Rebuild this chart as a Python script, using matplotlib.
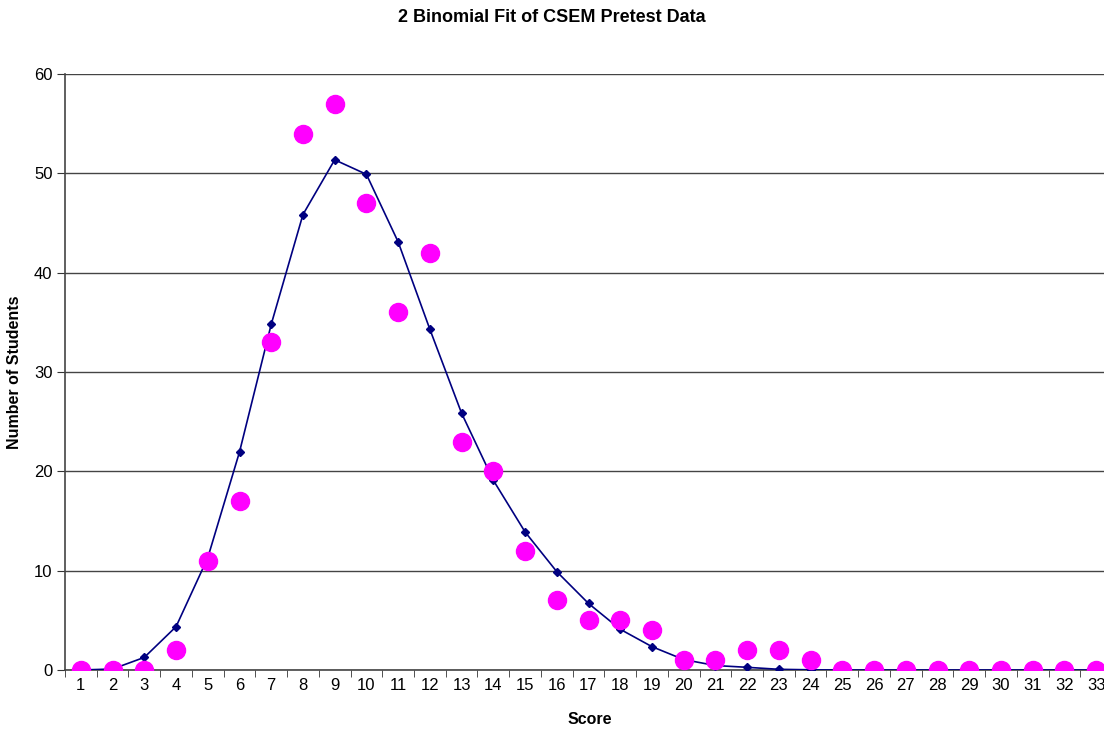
import matplotlib.pyplot as plt
from matplotlib.ticker import MultipleLocator

plt.rcParams['font.family'] = ['Liberation Sans', 'DejaVu Sans']

scores = list(range(1, 34))
observed = [0, 0, 0, 2, 11, 17, 33, 54, 57, 47, 36, 42, 23, 20, 12, 7, 5, 5, 4, 1, 1, 2, 2, 1,
            0, 0, 0, 0, 0, 0, 0, 0, 0]
fit = [0.0, 0.1, 1.27, 4.36, 11.3, 21.95, 34.8, 45.85, 51.36, 49.9, 43.1, 34.3, 25.85, 19.1,
       13.9, 9.9, 6.7, 4.1, 2.35, 1.05, 0.45, 0.27, 0.07, 0.02,
       0, 0, 0, 0, 0, 0, 0, 0, 0]

fig = plt.figure(figsize=(11.04, 7.33), dpi=100)
ax = fig.add_axes([65 / 1104, 1 - 670 / 733, 1047 / 1104, 596 / 733])

# fit line with small diamonds, observed counts as big magenta dots on top
ax.plot(scores, fit, color='#000080', lw=1.2, marker='D', markersize=4.5,
        markerfacecolor='#000080', markeredgecolor='#000080', zorder=3)
ax.plot(scores, observed, linestyle='none', marker='o', markersize=13,
        markerfacecolor='#ff00ff', markeredgecolor='#ff00ff', zorder=4)

ax.set_xlim(0.5, 33.5)
ax.set_ylim(0, 60)
ax.set_xticks(scores)
ax.xaxis.set_minor_locator(MultipleLocator(1, offset=0.5))
ax.tick_params(axis='x', which='major', length=0, labelsize=12, pad=6)
ax.tick_params(axis='x', which='minor', length=5, color='#333333')
ax.set_yticks(range(0, 61, 10))
ax.tick_params(axis='y', length=6, labelsize=12, color='#333333', pad=3)

ax.yaxis.grid(True, color='#444444', lw=1)
ax.set_axisbelow(True)
for s in ['top', 'right']:
    ax.spines[s].set_visible(False)
for s in ['left', 'bottom']:
    ax.spines[s].set_color('#444444')
    ax.spines[s].set_linewidth(1.2)

fig.text(0.5, 1 - 17 / 733, '2 Binomial Fit of CSEM Pretest Data', ha='center', va='center',
         fontsize=13, fontweight='bold')
fig.text(590 / 1104, 1 - 720 / 733, 'Score', ha='center', va='center',
         fontsize=11.5, fontweight='bold')
fig.text(15 / 1104, 1 - 372 / 733, 'Number of Students', ha='center', va='center',
         rotation=90, fontsize=11.5, fontweight='bold')

fig.savefig('out.png', dpi=100)
